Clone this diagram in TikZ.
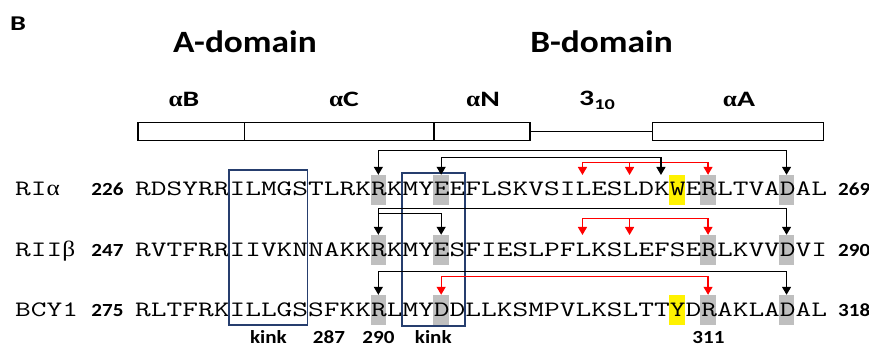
\documentclass[tikz,border=0pt]{standalone}
\usepackage{fontspec}
\usetikzlibrary{calc,positioning,arrows.meta}
\newfontfamily\lblfont{Carlito}[FakeStretch=1.14]
\newfontfamily\helixfont{Carlito}[FakeStretch=1.35]
\newfontfamily\seqfont{Latin Modern Mono}[FakeStretch=1.388]
\newfontfamily\grkfont{Liberation Serif}[FakeStretch=1.15]
\newcommand{\cw}{15.7}
\definecolor{kinkblue}{RGB}{38,62,110}
\definecolor{resgray}{RGB}{191,191,191}

\begin{document}
\begin{tikzpicture}[x=1pt,y=-1pt,
  seq/.style={inner sep=0,anchor=base west,font=\seqfont\fontsize{22}{24}\selectfont},
  num/.style={inner sep=0,anchor=base,font=\lblfont\bfseries\fontsize{18.5}{20}\selectfont},
  helix/.style={inner sep=0,anchor=base,font=\helixfont\bfseries\fontsize{22}{24}\selectfont},
  domtitle/.style={inner sep=0,anchor=base,font=\lblfont\bfseries\fontsize{31}{34}\selectfont},
  panel/.style={inner sep=0,anchor=base west,font=\helixfont\bfseries\fontsize{21}{23}\selectfont},
  helixbar/.style={draw,line width=1.4pt,minimum height=18.5pt,inner sep=0},
  resbox/.style={fill=resgray,minimum width=15.7pt,minimum height=30pt,inner sep=0},
  hilite/.style={fill=yellow,minimum width=15.7pt,minimum height=30pt,inner sep=0},
  kinkbox/.style={draw=kinkblue,line width=1.6pt,inner sep=0},
  link/.style={line width=1.3pt,>={Triangle[length=8pt,width=9pt]}}]
  \useasboundingbox (0,0) rectangle (869,347);

  % Panel letter and domains
  \node[panel] (panel) at (10,31) {B};
  \node[domtitle] (adom) at (245,53) {A-domain};
  \node[domtitle] (bdom) at (601.5,53) {B-domain};

  % Helices
  \node[helix] (lblB) at (184,107) {{\grkfont α}B};
  \node[helix] (lblC) at (344,107) {{\grkfont α}C};
  \node[helix] (lblN) at (483,107) {{\grkfont α}N};
  \node[helix] (lbl310) at (597,106) {3\raisebox{-4pt}{\fontsize{15}{16}\selectfont 10}};
  \node[helix] (lblA) at (739,107) {{\grkfont α}A};
  \node[helixbar,minimum width=106.3pt] (barB) at (191.15,131.5) {};
  \node[helixbar,minimum width=189.7pt] (barC) at (339.15,131.5) {};
  \node[helixbar,minimum width=96pt] (barN) at (482,131.5) {};
  \node[helixbar,minimum width=171pt] (barA) at (737.8,131.5) {};
  \draw[line width=1.4pt] (barN.east) -- (barA.west);

  % Rows
  \coordinate (row1) at (135,196);
  \coordinate (row2) at (135,256);
  \coordinate (row3) at (135,316);

  % Shaded residues
  \node[resbox] (ria15) at ($(row1)+(15.5*\cw,-6)$) {};
  \node[resbox] (ria19) at ($(row1)+(19.5*\cw,-6)$) {};
  \node[hilite] (ria34) at ($(row1)+(34.5*\cw,-6)$) {};
  \node[resbox] (ria36) at ($(row1)+(36.5*\cw,-6)$) {};
  \node[resbox] (ria41) at ($(row1)+(41.5*\cw,-6)$) {};
  \node[resbox] (rii15) at ($(row2)+(15.5*\cw,-6)$) {};
  \node[resbox] (rii19) at ($(row2)+(19.5*\cw,-6)$) {};
  \node[resbox] (rii36) at ($(row2)+(36.5*\cw,-6)$) {};
  \node[resbox] (rii41) at ($(row2)+(41.5*\cw,-6)$) {};
  \node[resbox] (bcy15) at ($(row3)+(15.5*\cw,-6)$) {};
  \node[resbox] (bcy19) at ($(row3)+(19.5*\cw,-6)$) {};
  \node[hilite] (bcy34) at ($(row3)+(34.5*\cw,-6)$) {};
  \node[resbox] (bcy36) at ($(row3)+(36.5*\cw,-6)$) {};
  \node[resbox] (bcy41) at ($(row3)+(41.5*\cw,-6)$) {};
  \coordinate (ria28) at ($(row1)+(28.5*\cw,-21)$);
  \coordinate (ria31) at ($(row1)+(31.5*\cw,-21)$);
  \coordinate (ria33) at ($(row1)+(33.5*\cw,-21)$);
  \coordinate (rii28) at ($(row2)+(28.5*\cw,-21)$);
  \coordinate (rii31) at ($(row2)+(31.5*\cw,-21)$);

  % Sequences
  \node[seq] (nameria) at (15,196) {RI{\grkfont α}};
  \node[seq] (namerii) at (15,256) {RII{\grkfont β}};
  \node[seq] (namebcy) at (15,316) {BCY1};
  \node[num] (startria) at (107.5,196) {226};
  \node[num] (startrii) at (107.5,256) {247};
  \node[num] (startbcy) at (107.5,316) {275};
  \node[seq] (seqria) at (row1) {RDSYRRILMGSTLRKRKMYEEFLSKVSILESLDKWERLTVADAL};
  \node[seq] (seqrii) at (row2) {RVTFRRIIVKNNAKKRKMYESFIESLPFLKSLEFSERLKVVDVI};
  \node[seq] (seqbcy) at (row3) {RLTFRKILLGSSFKKRLMYDDLLKSMPVLKSLTTYDRAKLADAL};
  \node[num,anchor=base west] (endria) at (838,196) {269};
  \node[num,anchor=base west] (endrii) at (838,256) {290};
  \node[num,anchor=base west] (endbcy) at (838,316) {318};

  % Kinks
  \node[kinkbox,minimum width=78.5pt,minimum height=155pt] (kink1) at (268.4,247.5) {};
  \node[kinkbox,minimum width=62.8pt,minimum height=153pt] (kink2) at (433.3,249.3) {};
  \node[num] (kinklbl1) at ($(kink1.south)+(0,18)$) {kink};
  \node[num] (kinklbl2) at ($(kink2.south)+(0,17)$) {kink};
  \node[num] (pos287) at (329,343.5) {287};
  \node[num] (pos290) at (378.5,343.5) {290};
  \node[num] (pos311) at (708.5,343) {311};

  % Contacts, RIalpha
  \coordinate (lv11) at (0,150.7);
  \coordinate (lv12) at (0,157.5);
  \coordinate (lv13) at (0,162.5);
  \draw[link,red,<->] (ria28) -- (ria28 |- lv13) -| (ria36.north);
  \draw[link,red,->] (ria31 |- lv13) -- (ria31);
  \draw[link,<->] (ria15.north) -- (ria15.north |- lv11) -| (ria41.north);
  \draw[link,<->] (ria19.north) -- (ria19.north |- lv12) -| (ria33);

  % Contacts, RIIbeta
  \coordinate (lv21) at (0,208.3);
  \coordinate (lv22) at (0,213.3);
  \coordinate (lv23) at (0,218.3);
  \draw[link,red,<->] (rii28) -- (rii28 |- lv23) -| (rii36.north);
  \draw[link,red,->] (rii31 |- lv23) -- (rii31);
  \draw[link,<->] (rii15.north) -- (rii15.north |- lv21) -| (rii41.north);
  \draw[link,->] (rii15.north |- lv22) -| (rii19.north);

  % Contacts, BCY1
  \coordinate (lv31) at (0,271.7);
  \coordinate (lv32) at (0,276.7);
  \draw[link,<->] (bcy15.north) -- (bcy15.north |- lv31) -| (bcy41.north);
  \draw[link,red,<->] (bcy19.north) -- (bcy19.north |- lv32) -| (bcy36.north);
\end{tikzpicture}
\end{document}
